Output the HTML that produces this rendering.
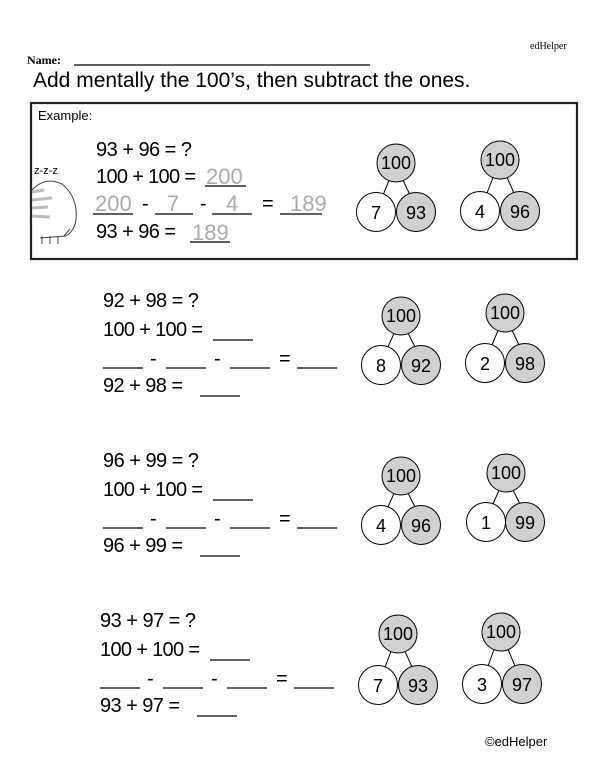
<!DOCTYPE html>
<html><head><meta charset="utf-8"><style>
html,body{margin:0;padding:0;background:#fff;}
svg{display:block;}
text{font-family:"Liberation Sans",sans-serif;}
.p{font-size:20px;fill:#000;}
.g{font-size:22px;fill:#aaa;}
.c{font-size:18px;fill:#000;}
</style></head><body>
<svg width="600" height="776" viewBox="0 0 600 776" xmlns="http://www.w3.org/2000/svg">
<text x="530" y="49" style="font-family:'Liberation Serif',serif;font-size:10px">edHelper</text>
<text x="27" y="64" style="font-family:'Liberation Serif',serif;font-weight:bold;font-size:12px">Name:</text>
<line x1="74" y1="65" x2="370" y2="65" stroke="#000" stroke-width="1.3"/>
<text x="33" y="87" style="font-size:21px">Add mentally the 100’s, then subtract the ones.</text>

<rect x="31" y="103" width="546" height="156" fill="none" stroke="#222" stroke-width="2.2"/>
<text x="38" y="120" style="font-size:13px">Example:</text>
<text x="34" y="174" style="font-size:11px">z-z-z</text>
<g fill="none" stroke="#444" stroke-width="1">
<path d="M32 190 Q45 176 62 184 Q74 194 76 209 Q78 229 66 236 L40 238"/>
<path d="M32 192 L44 190 M32 200 L52 198 M32 208 L48 207 M32 216 L50 217" stroke="#bbb" stroke-width="3"/>
<path d="M42 236 L42 244 M50 236 L50 244 M58 236 L58 244 M64 236 L70 229"/>
</g>

<g class="p">
<text x="96" y="156" textLength="96">93 + 96 = ?</text>
<text x="96" y="183" textLength="100">100 + 100 =</text>
<text x="142" y="210">-</text>
<text x="200" y="210">-</text>
<text x="262" y="210">=</text>
<text x="96" y="238" textLength="80">93 + 96 =</text>
</g>
<g stroke="#000" stroke-width="1.3">
<line x1="205" y1="186" x2="246" y2="186"/>
<line x1="93" y1="214" x2="133" y2="214"/><line x1="155" y1="214" x2="193" y2="214"/>
<line x1="212" y1="214" x2="252" y2="214"/><line x1="280" y1="214" x2="322" y2="214"/>
<line x1="190" y1="242" x2="230" y2="242"/>
</g>
<g class="g">
<text x="206" y="184">200</text>
<text x="95" y="211">200</text><text x="167" y="211">7</text><text x="226" y="211">4</text><text x="290" y="211">189</text>
<text x="192" y="240">189</text>
</g>

<g stroke="#000" stroke-width="1">
<line x1="390" y1="178" x2="383" y2="195"/><line x1="402" y1="178" x2="410" y2="195"/>
<circle cx="396" cy="163" r="19" fill="#d0d0d0"/><circle cx="376" cy="212" r="19.5" fill="#fff"/><circle cx="416" cy="212" r="19.5" fill="#d0d0d0"/>
<line x1="494" y1="175" x2="487" y2="193"/><line x1="506" y1="175" x2="514" y2="193"/>
<circle cx="500" cy="160" r="19" fill="#d0d0d0"/><circle cx="480" cy="211" r="19.5" fill="#fff"/><circle cx="520" cy="211" r="19.5" fill="#d0d0d0"/>

<line x1="395" y1="331" x2="388" y2="347"/><line x1="407" y1="331" x2="415" y2="347"/>
<circle cx="401" cy="316" r="19" fill="#d0d0d0"/><circle cx="381" cy="365" r="19.5" fill="#fff"/><circle cx="421" cy="365" r="19.5" fill="#d0d0d0"/>
<line x1="499" y1="328" x2="492" y2="345"/><line x1="511" y1="328" x2="519" y2="345"/>
<circle cx="505" cy="313" r="19" fill="#d0d0d0"/><circle cx="485" cy="363" r="19.5" fill="#fff"/><circle cx="525" cy="363" r="19.5" fill="#d0d0d0"/>

<line x1="395" y1="491" x2="388" y2="507"/><line x1="407" y1="491" x2="415" y2="507"/>
<circle cx="401" cy="476" r="19" fill="#d0d0d0"/><circle cx="381" cy="525" r="19.5" fill="#fff"/><circle cx="421" cy="525" r="19.5" fill="#d0d0d0"/>
<line x1="500" y1="488" x2="493" y2="504"/><line x1="512" y1="488" x2="520" y2="504"/>
<circle cx="506" cy="473" r="19" fill="#d0d0d0"/><circle cx="486" cy="522" r="19.5" fill="#fff"/><circle cx="525" cy="522" r="19.5" fill="#d0d0d0"/>

<line x1="392" y1="649" x2="385" y2="667"/><line x1="404" y1="649" x2="412" y2="667"/>
<circle cx="398" cy="634" r="19" fill="#d0d0d0"/><circle cx="378" cy="685" r="19.5" fill="#fff"/><circle cx="418" cy="685" r="19.5" fill="#d0d0d0"/>
<line x1="495" y1="647" x2="488" y2="666"/><line x1="507" y1="647" x2="515" y2="666"/>
<circle cx="501" cy="632" r="19" fill="#d0d0d0"/><circle cx="482" cy="684" r="19.5" fill="#fff"/><circle cx="522" cy="684" r="19.5" fill="#d0d0d0"/>
</g>
<g class="c" text-anchor="middle">
<text x="396" y="169">100</text><text x="376" y="219">7</text><text x="416" y="219">93</text>
<text x="500" y="166">100</text><text x="480" y="218">4</text><text x="520" y="218">96</text>
<text x="401" y="322">100</text><text x="381" y="372">8</text><text x="421" y="372">92</text>
<text x="505" y="319">100</text><text x="485" y="370">2</text><text x="525" y="370">98</text>
<text x="401" y="482">100</text><text x="381" y="532">4</text><text x="421" y="532">96</text>
<text x="506" y="479">100</text><text x="486" y="529">1</text><text x="525" y="529">99</text>
<text x="398" y="640">100</text><text x="378" y="692">7</text><text x="418" y="692">93</text>
<text x="501" y="638">100</text><text x="482" y="691">3</text><text x="522" y="691">97</text>
</g>

<g class="p">
<text x="103" y="307" textLength="96">92 + 98 = ?</text><text x="103" y="336" textLength="100">100 + 100 =</text>
<text x="150" y="365">-</text><text x="214" y="365">-</text><text x="279" y="365">=</text>
<text x="103" y="392" textLength="80">92 + 98 =</text>

<text x="103" y="467" textLength="96">96 + 99 = ?</text><text x="103" y="496" textLength="100">100 + 100 =</text>
<text x="150" y="525">-</text><text x="214" y="525">-</text><text x="279" y="525">=</text>
<text x="103" y="552" textLength="80">96 + 99 =</text>

<text x="100" y="627" textLength="96">93 + 97 = ?</text><text x="100" y="656" textLength="100">100 + 100 =</text>
<text x="147" y="685">-</text><text x="211" y="685">-</text><text x="276" y="685">=</text>
<text x="100" y="712" textLength="80">93 + 97 =</text>
</g>
<g stroke="#000" stroke-width="1.3">
<line x1="213" y1="340" x2="253" y2="340"/>
<line x1="103" y1="368" x2="143" y2="368"/><line x1="166" y1="368" x2="206" y2="368"/><line x1="230" y1="368" x2="270" y2="368"/><line x1="297" y1="368" x2="337" y2="368"/>
<line x1="200" y1="396" x2="240" y2="396"/>

<line x1="213" y1="500" x2="253" y2="500"/>
<line x1="103" y1="528" x2="143" y2="528"/><line x1="166" y1="528" x2="206" y2="528"/><line x1="230" y1="528" x2="270" y2="528"/><line x1="297" y1="528" x2="337" y2="528"/>
<line x1="200" y1="556" x2="240" y2="556"/>

<line x1="210" y1="660" x2="250" y2="660"/>
<line x1="100" y1="688" x2="140" y2="688"/><line x1="163" y1="688" x2="203" y2="688"/><line x1="227" y1="688" x2="267" y2="688"/><line x1="294" y1="688" x2="334" y2="688"/>
<line x1="197" y1="716" x2="237" y2="716"/>
</g>
<text x="485" y="746" style="font-size:13px">©edHelper</text>
</svg>
</body></html>
